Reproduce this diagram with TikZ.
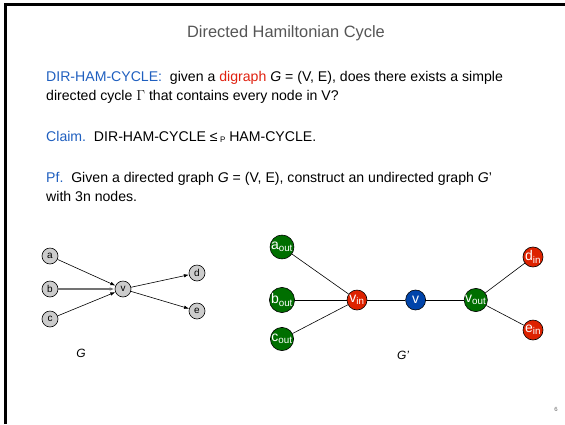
\documentclass[tikz,border=0pt]{standalone}
\usepackage{fontspec}
\setmainfont{Liberation Sans}
\usetikzlibrary{positioning, arrows.meta}
\definecolor{slideblue}{HTML}{1F5FBF}
\definecolor{slidered}{HTML}{E0200F}
\definecolor{nodegreen}{HTML}{006F00}
\definecolor{nodered}{HTML}{DD2200}
\definecolor{nodeblue}{HTML}{0044AA}
\definecolor{titlegray}{HTML}{555555}

\begin{document}
\begin{tikzpicture}[
  x=1pt, y=-1pt,
  txt/.style={anchor=base west, inner sep=0pt, font=\fontsize{14.1}{17}\selectfont},
  gnode/.style={circle, draw, fill=black!20, line width=0.6pt,
                minimum size=16pt, inner sep=0pt, font=\fontsize{10}{10}\selectfont},
  hnode/.style={circle, draw, line width=0.6pt, minimum size=20pt,
                inner sep=0pt, text=white, font=\fontsize{14}{14}\selectfont},
  outn/.style={hnode, fill=nodegreen},
  inn/.style={hnode, fill=nodered},
  arc/.style={-{Latex[length=5pt,width=3.5pt]}, line width=0.6pt},
  link/.style={line width=0.6pt},
]
  \useasboundingbox (0,0) rectangle (565,424);
  \draw[line width=3pt] (5.5,424) -- (5.5,4.5) -- (565,4.5);

  % slide text
  \node[anchor=base, inner sep=0pt, text=titlegray,
        font=\fontsize{16.4}{16}\selectfont] (title) at (286,37)
        {Directed Hamiltonian Cycle};
  \node[txt] (def1) at (46,81) {\textcolor{slideblue}{DIR-HAM-CYCLE:}\ \ given a
    \textcolor{slidered}{digraph} \textit{G} = (V, E), does there exists a simple};
  \node[txt] (def2) at (46,100) {directed cycle $\Gamma$ that contains every node in V?};
  \node[txt] (claim) at (46,141) {\textcolor{slideblue}{Claim.}\ \ DIR-HAM-CYCLE
    ≤\,\raisebox{-1.5pt}{\fontsize{8}{8}\selectfont P} HAM-CYCLE.};
  \node[txt] (pf1) at (46,182) {\textcolor{slideblue}{Pf.}\ \ Given a directed graph
    \textit{G} = (V, E), construct an undirected graph \textit{G}'};
  \node[txt] (pf2) at (46,201) {with 3n nodes.};

  % directed graph G
  \node[gnode] (a) at (50,256) {a};
  \node[gnode] (b) at (50,289) {b};
  \node[gnode] (c) at (50,319) {c};
  \node[gnode] (v) at (123,289) {v};
  \node[gnode] (d) at (197,273) {d};
  \node[gnode] (e) at (197,311) {e};
  \node[font=\fontsize{12}{12}\selectfont\itshape] (glabel) at (81,353) {G};

  \draw[arc] (a) -- (v);
  \draw[arc, draw=black!55, line width=1.2pt] (b) -- (v);
  \draw[arc] (c) -- (v);
  \draw[arc] (v) -- (d);
  \draw[arc] (v) -- (e);

  % undirected graph G'
  \node[outn] (aout) at (282,247) {a\textsubscript{out}};
  \node[outn] (bout) at (282,300) {b\textsubscript{out}};
  \node[outn] (cout) at (282,339) {c\textsubscript{out}};
  \node[inn] (vin) at (357,300) {v\textsubscript{in}};
  \node[hnode, fill=nodeblue, right=38pt of vin] (vmid) {v};
  \node[outn, right=38pt of vmid] (vout) {v\textsubscript{out}};
  \node[inn] (din) at (533,257) {d\textsubscript{in}};
  \node[inn] (ein) at (533,330) {e\textsubscript{in}};
  \node[font=\fontsize{12}{12}\selectfont\itshape] (gplabel) at (403,355) {G'};

  \draw[link] (aout) -- (vin);
  \draw[link] (bout) -- (vin);
  \draw[link] (cout) -- (vin);
  \draw[link] (vin) -- (vmid);
  \draw[link] (vmid) -- (vout);
  \draw[link] (vout) -- (din);
  \draw[link] (vout) -- (ein);

  \node[text=black!60, font=\fontsize{6}{6}\selectfont] (pagenum) at (556,409) {6};
\end{tikzpicture}
\end{document}
